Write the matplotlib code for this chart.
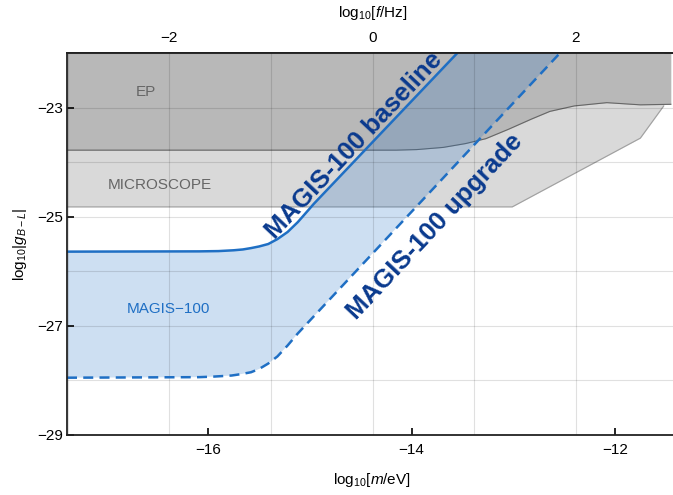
import numpy as np
import matplotlib.pyplot as plt

plt.rcParams['font.family'] = ['Liberation Sans', 'DejaVu Sans']
plt.rcParams['mathtext.fontset'] = 'custom'
plt.rcParams['mathtext.rm'] = 'Liberation Sans'
plt.rcParams['mathtext.it'] = 'Liberation Sans:italic'
plt.rcParams['mathtext.bf'] = 'Liberation Sans:bold'

# log10 f[Hz] = log10 m[eV] - log10 h[eV s]
LOG_H = 14.383

# EP bound
m_ep = [-17.39, -14.15, -13.95, -13.69, -13.47, -13.27, -13.05, -12.82, -12.64, -12.40, -12.08, -11.75, -11.45]
g_ep = [-23.78, -23.78, -23.77, -23.73, -23.66, -23.57, -23.40, -23.21, -23.07, -22.97, -22.91, -22.95, -22.94]

# MICROSCOPE bound
m_mic = [-17.39, -13.01, -11.75, -11.52]
g_mic = [-24.82, -24.82, -23.56, -22.97]

# MAGIS-100 baseline (solid) and upgrade (dashed)
m_base = [-17.39, -16.09, -15.90, -15.75, -15.66, -15.58, -15.50, -15.41, -15.32, -15.22, -15.12, -14.96, -13.55]
g_base = [-25.64, -25.635, -25.63, -25.615, -25.60, -25.575, -25.545, -25.50, -25.41, -25.28, -25.10, -24.76, -22.00]
m_up = [-17.39, -16.09, -15.95, -15.77, -15.68, -15.58, -15.50, -15.41, -15.32, -15.22, -15.12, -12.54]
g_up = [-27.95, -27.94, -27.93, -27.91, -27.885, -27.85, -27.79, -27.69, -27.56, -27.36, -27.14, -22.00]

x_ticks = [-16, -14, -12]
y_ticks = [-29, -27, -25, -23]
f_ticks = [-2, 0, 2]

blue = '#1f6fc4'
navy = '#0a3a8e'

fig = plt.figure(figsize=(6.73, 4.95), dpi=100)
ax = fig.add_axes([67 / 673, 60 / 495, 5.94 * 102.8 / 673, 382 / 495])

# exclusion regions
ax.fill_between(m_mic, g_mic, -22, color='#d9d9d9', lw=0, zorder=0.5)
ax.plot(m_mic, g_mic, color='#a0a0a0', lw=0.8, zorder=0.6)
ax.fill_between(m_ep, g_ep, -22, color='#b8b8b8', lw=0, zorder=0.7)
ax.plot(m_ep, g_ep, color='#666666', lw=0.8, zorder=0.8)

# MAGIS-100 band
band_m = m_base + m_up[::-1]
band_g = g_base + g_up[::-1]
ax.fill(band_m, band_g, color=blue, alpha=0.22, lw=0, zorder=1)
ax.plot(m_base, g_base, color=blue, lw=1.8, zorder=2)
ax.plot(m_up, g_up, color=blue, lw=1.8, ls=(0, (4, 2.5)), zorder=2)

ax.text(-16.61, -22.71, 'EP', color='#666666', fontsize=11, ha='center', va='center')
ax.text(-16.48, -24.41, 'MICROSCOPE', color='#666666', fontsize=11, ha='center', va='center')
ax.text(-16.39, -26.70, 'MAGIS\u2212100', color=blue, fontsize=11, ha='center', va='center')
ax.text(-14.57, -23.69, 'MAGIS-100 baseline', color=navy, fontsize=18.5, fontweight='bold',
        rotation=46.8, rotation_mode='anchor', ha='center', va='center')
ax.text(-13.77, -25.18, 'MAGIS-100 upgrade', color=navy, fontsize=18.5, fontweight='bold',
        rotation=46.8, rotation_mode='anchor', ha='center', va='center')

ax.set_xlim(-17.39, -11.45)
ax.set_ylim(-29, -22)
ax.set_xticks(x_ticks)
ax.set_xticks(np.arange(-3, 4) - LOG_H, minor=True)
ax.set_yticks(y_ticks)
ax.set_yticks([-28, -26, -24, -22], minor=True)
ax.set_axisbelow('line')
ax.grid(which='minor', color='k', alpha=0.12, lw=0.8)
ax.grid(which='major', axis='y', color='k', alpha=0.12, lw=0.8)
ax.tick_params(which='major', direction='in', length=5, width=1.2, labelsize=11, top=False, right=False)
ax.tick_params(axis='x', which='major', pad=6)
ax.tick_params(axis='y', which='major', pad=3)
ax.tick_params(which='minor', length=0)
for s in ax.spines.values():
    s.set_linewidth(1.3)
    s.set_color('#222222')
ax.set_xlabel('log$_{10}$[$m$/eV]', fontsize=11, labelpad=10)
ax.set_ylabel('log$_{10}|g_{B-L}|$', fontsize=11, labelpad=6)

sec = ax.secondary_xaxis('top', functions=(lambda m: m + LOG_H, lambda f: f - LOG_H))
sec.set_xticks(f_ticks)
sec.tick_params(direction='in', length=5, width=1.2, labelsize=11, pad=6)
sec.spines['top'].set_linewidth(1.3)
sec.set_xlabel('log$_{10}$[$f$/Hz]', fontsize=11, labelpad=10)

fig.savefig('out.png', dpi=100)
